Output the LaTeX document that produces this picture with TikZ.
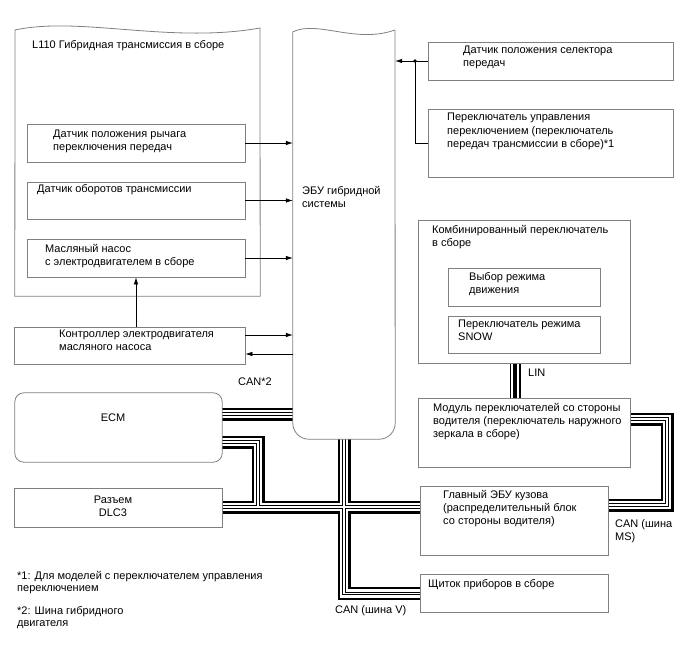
\documentclass[tikz,border=0pt]{standalone}
\usepackage{fontspec}
\setmainfont{Liberation Sans}
\usetikzlibrary{arrows.meta,fit}
\definecolor{bordergray}{RGB}{128,128,128}
\begin{document}
\begin{tikzpicture}[x=1pt,y=-1pt,
  box/.style={draw=bordergray, line width=0.8pt, fill=white, inner sep=0pt},
  frame/.style={draw=none, inner sep=0pt},
  outline/.style={draw=bordergray, line width=0.8pt},
  lbl/.style={anchor=base west, align=left, inner sep=0pt, font=\fontsize{11}{13}\selectfont},
  clbl/.style={anchor=base, align=center, inner sep=0pt, font=\fontsize{11}{13}\selectfont},
  arr/.style={line width=0.6pt, -{Latex[length=7pt,width=4.5pt]}},
  wire/.style={line width=0.6pt}]
\useasboundingbox (0,0) rectangle (688,658);

% ---------- frames used by the buses ----------
\node[frame, fit={(15,393) (222,462)}] (ecm) {};
\node[frame, fit={(15,489) (222,527)}] (dlc) {};
\node[frame, fit={(293,32) (395,439)}] (ecu) {};
\node[frame, fit={(419,399) (630,467)}] (mod) {};
\node[frame, fit={(421,487) (608,555)}] (body) {};
\node[frame, fit={(421,575) (608,612)}] (clu) {};
\node[frame, fit={(419,221) (630,363)}] (comb) {};

% ---------- CAN buses (layered) ----------
\foreach \w/\c in {13/black, 8.4/white, 3.6/black, 1.4/white} {
  \draw[line width=\w pt, \c, line join=miter]
    (ecm.east |- 0,414) -- (ecu.west |- 0,414)
    (ecm.east |- 0,442) -| (258,507)
    (dlc.east |- 0,507) -- (body.west |- 0,507)
    (ecu.south) |- (clu.west)
    (mod.east |- 0,419) -| (667,505) -- (body.east |- 0,505);
}
% ---------- LIN bus ----------
\foreach \w/\c in {11/black, 8/white, 4.5/black} {
  \draw[line width=\w pt, \c] (comb.south -| 515,0) -- (mod.north -| 515,0);
}

% ---------- L110 transmission ----------
\node[frame, fit={(15,30) (260,296)}] (l110) {};
\draw[outline] (l110.south west) -- (15,30) .. controls (80,16) and (170,44) .. (260,28) -- (l110.south east) -- cycle;
\node[lbl] (l110t) at (32,49) {L110 Гибридная трансмиссия в сборе};

\node[box, fit={(27,124) (245,162)}] (b1) {};
\node[lbl] (b1t) at (53,150) {Датчик положения рычага\\переключения передач};
\node[box, fit={(27,182) (245,219)}] (b2) {};
\node[lbl] (b2t) at (37,193) {Датчик оборотов трансмиссии};
\node[box, fit={(27,239) (245,277)}] (b3) {};
\node[lbl] (b3t) at (45,265) {Масляный насос\\с электродвигателем в сборе};

\node[box, fit={(14,327) (245,364)}] (ctrl) {};
\node[lbl] (ctrlt) at (59,350) {Контроллер электродвигателя\\масляного насоса};

% ---------- ECU ----------
\draw[outline] (ecu.north west) .. controls (318,20) and (355,44) .. (395,30);
\draw[outline, rounded corners=16pt] (395,30) -- (ecu.south east) -- (ecu.south west) -- (ecu.north west);
\node[lbl] (ecut) at (302,207) {ЭБУ гибридной\\системы};

% ---------- ECM / DLC3 ----------
\draw[outline, rounded corners=9pt] (ecm.north west) rectangle (ecm.south east);
\node[clbl] (ecmt) at (113,421) {ECM};
\draw[outline] (dlc.north west) rectangle (dlc.south east);
\node[clbl] (dlct) at (113,516) {Разъем\\DLC3};
\node[lbl] (can2) at (238,385) {CAN*2};

% ---------- right side ----------
\node[box, fit={(428,42) (673,80)}] (sel) {};
\node[lbl] (selt) at (463,67) {Датчик положения селектора\\передач};
\node[box, fit={(428,109) (673,177)}] (sh) {};
\node[lbl] (sht) at (447,147) {Переключатель управления\\переключением (переключатель\\передач трансмиссии в сборе)*1};

\draw[outline] (comb.north west) rectangle (comb.south east);
\node[lbl] (combt) at (432,246) {Комбинированный переключатель\\в сборе};
\node[box, fit={(448,268) (600,306)}] (in1) {};
\node[lbl] (in1t) at (469,293) {Выбор режима\\движения};
\node[box, fit={(448,316) (600,353)}] (in2) {};
\node[lbl] (in2t) at (458,340) {Переключатель режима\\SNOW};
\node[lbl] (lin) at (528,376) {LIN};

\draw[outline, fill=white] (mod.north west) rectangle (mod.south east);
\node[lbl] (modt) at (433,437) {Модуль переключателей со стороны\\водителя (переключатель наружного\\зеркала в сборе)};
\draw[outline, fill=white] (body.north west) rectangle (body.south east);
\node[lbl] (bodyt) at (443,524) {Главный ЭБУ кузова\\(распределительный блок\\со стороны водителя)};
\draw[outline, fill=white] (clu.north west) rectangle (clu.south east);
\node[lbl] (clut) at (428,587) {Щиток приборов в сборе};
\node[lbl] (canv) at (335,613) {CAN (шина V)};
\node[lbl] (canms) at (615,540) {CAN (шина\\MS)};

% ---------- footnotes ----------
\node[lbl, font=\fontsize{11}{12.5}\selectfont] (fn1) at (17,591.5) {*1: Для моделей с переключателем управления\\переключением};
\node[lbl, font=\fontsize{11}{12.5}\selectfont] (fn2) at (17,626.5) {*2: Шина гибридного\\двигателя};

% ---------- signal connectors ----------
\draw[arr] (b1.east) -- (b1.east -| ecu.west);
\draw[arr] (b2.east) -- (b2.east -| ecu.west);
\draw[arr] (b3.east) -- (b3.east -| ecu.west);
\draw[arr] (b3.south |- ctrl.north) -- (b3.south);
\draw[arr] ([yshift=10.5pt]ctrl.east) -- ([yshift=10.5pt]ctrl.east -| ecu.west);
\draw[arr] ([yshift=-8.5pt]ctrl.east -| ecu.west) -- ([yshift=-8.5pt]ctrl.east);
\coordinate (jn) at (415,61);
\draw[arr] (sel.west) -- (sel.west -| ecu.east);
\draw[wire] (sh.west) -| (jn);
\fill (jn) circle (1.8pt);
\end{tikzpicture}
\end{document}
